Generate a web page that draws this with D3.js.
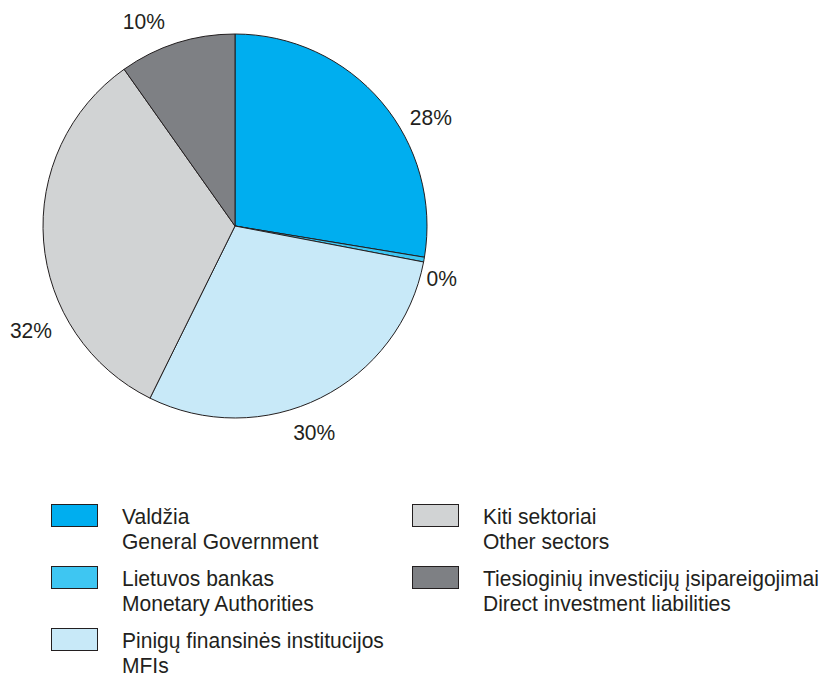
<!DOCTYPE html>
<html>
<head>
<meta charset="utf-8">
<script src="https://cdn.jsdelivr.net/npm/d3@7"></script>
<style>
  html, body { margin: 0; padding: 0; background: #fff; }
  svg { display: block; }
  text { font-family: "Liberation Sans", Arial, sans-serif; fill: #231f20; }
</style>
</head>
<body>
<div id="chart"></div>
<script>
// ---- data ----
const categoriesLt = ["Valdžia", "Lietuvos bankas", "Pinigų finansinės institucijos", "Kiti sektoriai", "Tiesioginių investicijų įsipareigojimai"];
const categoriesEn = ["General Government", "Monetary Authorities", "MFIs", "Other sectors", "Direct investment liabilities"];
const values = [27.6, 0.4, 29.3, 32.9, 9.8];
const percentLabels = ["28%", "0%", "30%", "32%", "10%"];
const colors = ["#00aeef", "#3ec6f2", "#c8e9f8", "#d1d3d4", "#7e8084"];

// ---- layout ----
const W = 821, H = 675;
const cx = 235, cy = 226, R = 192;
const FS = 22;
// label placement (angle in degrees clockwise from top, radius)
const labelPolar = [[61, 224], [104, 213], [159, 221], [243, 229], [336, 224]];

const svg = d3.select("#chart").append("svg").attr("width", W).attr("height", H);

// condensed look: measure natural width of the widest legend line, scale to reference width
const probe = svg.append("text").attr("font-size", FS).text(categoriesLt[4]);
const natural = probe.node().getComputedTextLength();
probe.remove();
const sx = 336 / natural;

const pie = d3.pie().sort(null).value(d => d)(values);
const arc = d3.arc().innerRadius(0).outerRadius(R);

const g = svg.append("g").attr("transform", `translate(${cx},${cy})`);
g.selectAll("path.slice").data(pie).join("path")
  .attr("class", "slice")
  .attr("d", arc)
  .attr("fill", (d, i) => colors[i])
  .attr("stroke", "#231f20")
  .attr("stroke-width", 1)
  .attr("stroke-linejoin", "round");

g.selectAll("text.pct").data(pie).join("text")
  .attr("class", "pct")
  .attr("transform", (d, i) => {
    const a = labelPolar[i][0] * Math.PI / 180, r = labelPolar[i][1];
    return `translate(${r * Math.sin(a)},${-r * Math.cos(a) + 8}) scale(${sx},1)`;
  })
  .attr("text-anchor", "middle")
  .attr("font-size", FS)
  .text((d, i) => percentLabels[i]);

// ---- legend ----
const legendPos = [[51, 504], [51, 566], [51, 628], [412, 504], [412, 566]];
const lg = svg.append("g");
const items = lg.selectAll("g.item").data(categoriesLt).join("g")
  .attr("class", "item")
  .attr("transform", (d, i) => `translate(${legendPos[i][0]},${legendPos[i][1]})`);
items.append("rect")
  .attr("x", 0.5).attr("y", 0.5)
  .attr("width", 46).attr("height", 22)
  .attr("fill", (d, i) => colors[i])
  .attr("stroke", "#231f20").attr("stroke-width", 1);
items.append("text")
  .attr("transform", `translate(71,19.5) scale(${sx},1)`)
  .attr("font-size", FS)
  .text(d => d);
items.append("text")
  .attr("transform", `translate(71,45) scale(${sx},1)`)
  .attr("font-size", FS)
  .text((d, i) => categoriesEn[i]);
</script>
</body>
</html>
